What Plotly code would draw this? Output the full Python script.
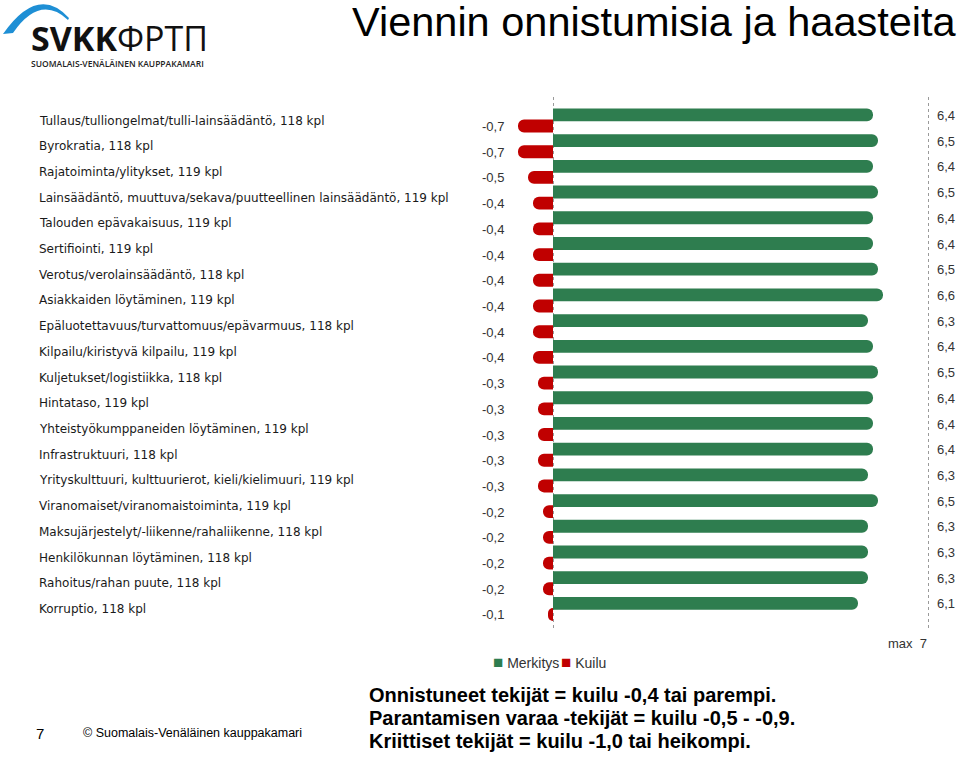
import plotly.graph_objects as go

categories = [
    "Tullaus/tulliongelmat/tulli-lainsäädäntö, 118 kpl",
    "Byrokratia, 118 kpl",
    "Rajatoiminta/ylitykset, 119 kpl",
    "Lainsäädäntö, muuttuva/sekava/puutteellinen lainsäädäntö, 119 kpl",
    "Talouden epävakaisuus, 119 kpl",
    "Sertifiointi, 119 kpl",
    "Verotus/verolainsäädäntö, 118 kpl",
    "Asiakkaiden löytäminen, 119 kpl",
    "Epäluotettavuus/turvattomuus/epävarmuus, 118 kpl",
    "Kilpailu/kiristyvä kilpailu, 119 kpl",
    "Kuljetukset/logistiikka, 118 kpl",
    "Hintataso, 119 kpl",
    "Yhteistyökumppaneiden löytäminen, 119 kpl",
    "Infrastruktuuri, 118 kpl",
    "Yrityskulttuuri, kulttuurierot, kieli/kielimuuri, 119 kpl",
    "Viranomaiset/viranomaistoiminta, 119 kpl",
    "Maksujärjestelyt/-liikenne/rahaliikenne, 118 kpl",
    "Henkilökunnan löytäminen, 118 kpl",
    "Rahoitus/rahan puute, 118 kpl",
    "Korruptio, 118 kpl",
]
merkitys = [6.4, 6.5, 6.4, 6.5, 6.4, 6.4, 6.5, 6.6, 6.3, 6.4,
            6.5, 6.4, 6.4, 6.4, 6.3, 6.5, 6.3, 6.3, 6.3, 6.1]
kuilu = [-0.7, -0.7, -0.5, -0.4, -0.4, -0.4, -0.4, -0.4, -0.4, -0.4,
         -0.3, -0.3, -0.3, -0.3, -0.3, -0.2, -0.2, -0.2, -0.2, -0.1]
series_names = ["Merkitys", "Kuilu"]
max_label = "max\u00a0\u00a07"
title_text = "Viennin onnistumisia ja haasteita"
footer_lines = [
    "Onnistuneet tekijät = kuilu -0,4 tai parempi.",
    "Parantamisen varaa -tekijät = kuilu -0,5 - -0,9.",
    "Kriittiset tekijät = kuilu -1,0 tai heikompi.",
]

GREEN = "#2E7D4F"
RED = "#C00000"
CLEAR = "rgba(0,0,0,0)"

W, H = 960, 760
# plot area in page pixels
L, T, PW, PH = 512, 97, 418, 531


def px(x):
    return (x - L) / PW


def py(y):
    return (T + PH - y) / PH


def fmt(v):
    return f"{v:.1f}".replace(".", ",")


fig = go.Figure()
fig.add_trace(go.Bar(
    y=categories, x=merkitys, orientation="h", name=series_names[0],
    legendgroup="m", showlegend=False,
    marker=dict(color=GREEN, cornerradius=6, line=dict(width=0)),
    width=0.5, offset=-0.467, hoverinfo="skip",
))
fig.add_trace(go.Bar(
    y=categories, x=kuilu, orientation="h", name=series_names[1],
    legendgroup="k", showlegend=False,
    marker=dict(color=RED, cornerradius=6, line=dict(width=0)),
    width=0.5, offset=-0.035, hoverinfo="skip",
))
# legend entries: coloured square drawn in the entry text
for nm, col, grp in [(series_names[0], GREEN, "m"), (series_names[1], RED, "k")]:
    fig.add_trace(go.Scatter(
        x=[None], y=[None], mode="markers", legendgroup=grp,
        name=f"<span style='color:{col};font-size:17px'>■</span> {nm}",
        marker=dict(size=1, color=CLEAR), hoverinfo="skip",
    ))
# empty spacer entry so the last legend text is not clipped
fig.add_trace(go.Scatter(
    x=[None], y=[None], mode="markers", name="\u00a0",
    marker=dict(size=1, color=CLEAR), hoverinfo="skip",
))

ann = []
for c, g, r in zip(categories, merkitys, kuilu):
    ann.append(dict(text=c, xref="paper", yref="y", x=px(37), y=c,
                    xanchor="left", yanchor="middle", showarrow=False,
                    font=dict(family="DejaVu Sans", size=12, color="#1a1a1a")))
    ann.append(dict(text=fmt(r), xref="paper", yref="y", x=px(506), y=c,
                    yshift=-6, xanchor="right", yanchor="middle", showarrow=False,
                    font=dict(family="Liberation Sans", size=13, color="#333")))
    ann.append(dict(text=fmt(g), xref="paper", yref="y", x=px(935), y=c,
                    yshift=5, xanchor="left", yanchor="middle", showarrow=False,
                    font=dict(family="Liberation Sans", size=13, color="#333")))

ann.append(dict(text=max_label, xref="paper", yref="paper", x=px(886), y=py(643),
                xanchor="left", yanchor="middle", showarrow=False,
                font=dict(family="Liberation Sans", size=13, color="#333")))
ann.append(dict(text=title_text, xref="paper", yref="paper", x=px(959), y=py(21),
                xanchor="right", yanchor="middle", showarrow=False,
                font=dict(family="Liberation Sans", size=41.5, color="#000")))
ann.append(dict(text="<b>SVKK</b>ФРТП", xref="paper", yref="paper", x=px(29), y=py(38),
                xanchor="left", yanchor="middle", showarrow=False,
                font=dict(family="Open Sans", size=34, color="#111")))
ann.append(dict(text="SUOMALAIS-VENÄLÄINEN KAUPPAKAMARI", xref="paper", yref="paper",
                x=px(29), y=py(63), xanchor="left", yanchor="middle", showarrow=False,
                font=dict(family="Open Sans", size=8.5, color="#222", weight=600)))
ann.append(dict(text="7", xref="paper", yref="paper", x=px(34), y=py(733),
                xanchor="left", yanchor="middle", showarrow=False,
                font=dict(family="Liberation Sans", size=15, color="#000")))
ann.append(dict(text="© Suomalais-Venäläinen kauppakamari", xref="paper", yref="paper",
                x=px(81), y=py(733), xanchor="left", yanchor="middle", showarrow=False,
                font=dict(family="Liberation Sans", size=12.5, color="#000")))
for i, line in enumerate(footer_lines):
    ann.append(dict(text=line, xref="paper", yref="paper", x=px(367), y=py(695 + 23 * i),
                    xanchor="left", yanchor="middle", showarrow=False,
                    font=dict(family="Liberation Sans", size=20, color="#000", weight="bold")))

arc = (f"M {px(3)},{py(34)} Q {px(38)},{py(-16)} {px(69)},{py(18)} "
       f"L {px(68)},{py(20)} Q {px(40)},{py(-6)} {px(13)},{py(33)} Z")

fig.update_layout(
    width=W, height=H,
    margin=dict(l=L, r=W - L - PW, t=T, b=H - T - PH),
    paper_bgcolor="white", plot_bgcolor="white",
    barmode="overlay",
    showlegend=True,
    legend=dict(orientation="h", x=px(453), y=py(647), xanchor="left", yanchor="top",
                font=dict(family="Liberation Sans", size=14, color="#333"),
                entrywidth=23, entrywidthmode="pixels",
                itemclick=False, itemdoubleclick=False),
    xaxis=dict(range=[-0.82, 7.54], tickvals=[-0.8, 0, 7.5], showticklabels=False,
               showgrid=True, griddash="3px,3px", gridcolor="#9a9a9a", gridwidth=1,
               zeroline=False, showline=False, ticks=""),
    yaxis=dict(categoryorder="array", categoryarray=categories,
               range=[19.74, -0.914], showticklabels=False, showgrid=False,
               zeroline=False, ticks=""),
    annotations=ann,
    shapes=[dict(type="path", xref="paper", yref="paper", path=arc,
                 fillcolor="#1E8FD5", line=dict(width=0), layer="above")],
)

fig.write_html(
    "out.html",
    config={"displayModeBar": False},
    post_script="document.body.style.margin='0px';document.body.style.overflow='hidden';",
)
